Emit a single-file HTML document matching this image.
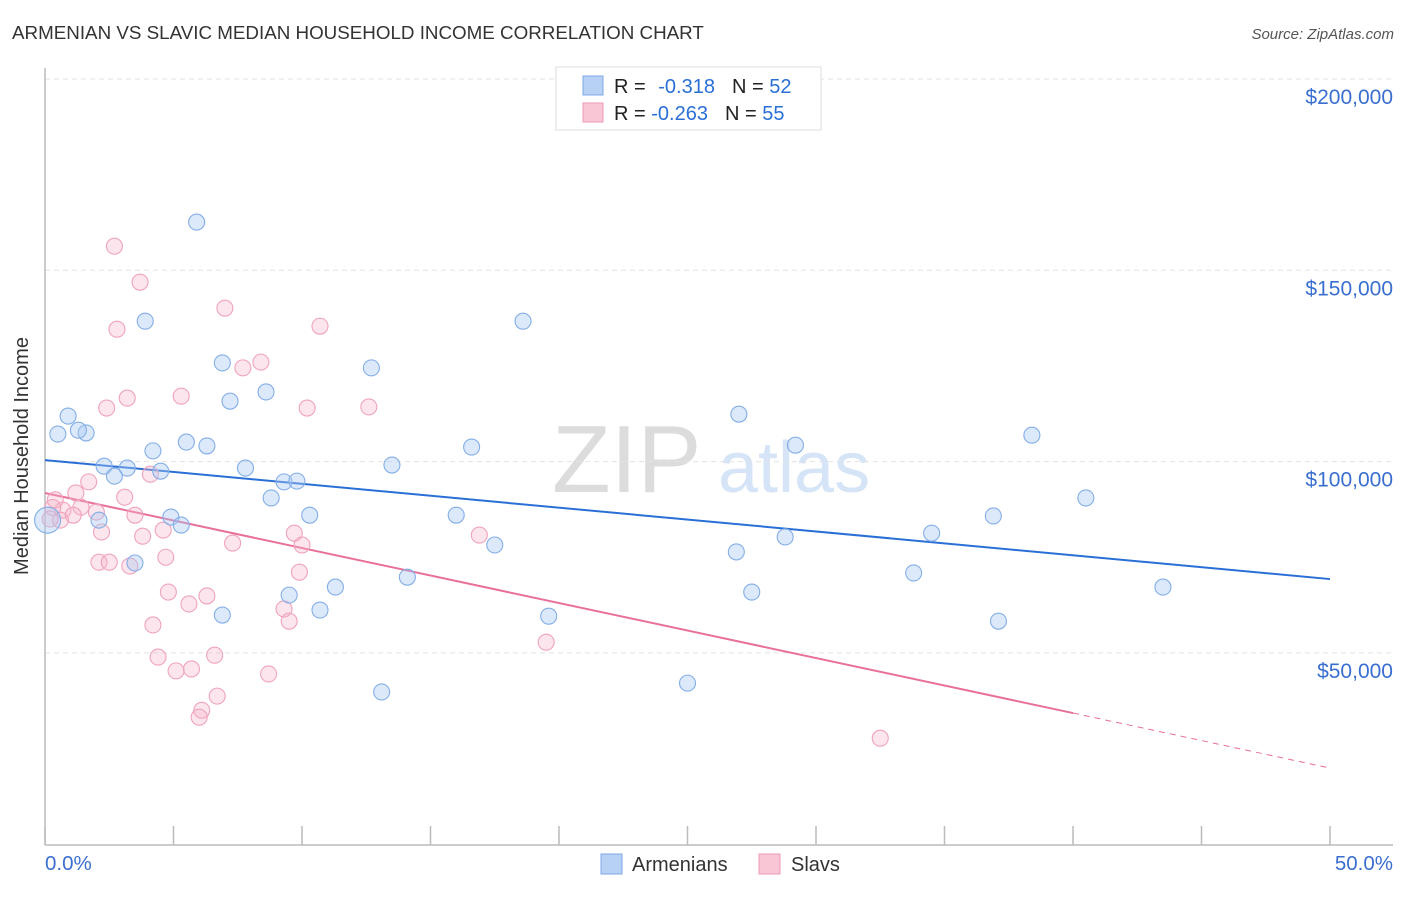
<!DOCTYPE html>
<html><head><meta charset="utf-8"><style>
body{margin:0;background:#fff;font-family:"Liberation Sans",sans-serif;}
svg text{font-family:"Liberation Sans",sans-serif;}
</style></head><body>
<svg id="chart" width="1406" height="892">
<text x="12" y="39" font-size="18.8" fill="#333">ARMENIAN VS SLAVIC MEDIAN HOUSEHOLD INCOME CORRELATION CHART</text>
<text x="1394" y="39" font-size="15" fill="#555" font-style="italic" text-anchor="end">Source: ZipAtlas.com</text>
<g><text x="552" y="492" font-size="96" fill="#dcdcdc" font-family="Liberation Serif">ZIP</text><text x="718" y="492" font-size="72" fill="#d5e4f7">atlas</text></g>
<g id="grid"></g><g id="axes"></g><g id="lines"></g><g id="points"></g>
<text x="28" y="456" font-size="20" fill="#333" text-anchor="middle" transform="rotate(-90 28 456)">Median Household Income</text>
<text x="45" y="870" font-size="20.5" fill="#3a6fd0">0.0%</text>
<text x="1393" y="870" font-size="20.5" fill="#3a6fd0" text-anchor="end">50.0%</text>
<g>
<rect x="556" y="67" width="265" height="63" fill="#fff" stroke="#ddd"/>
<rect x="583" y="76" width="20" height="19" fill="#b7d1f4" stroke="#7ea8e4"/>
<rect x="583" y="103" width="20" height="19" fill="#f9c6d5" stroke="#ee9ab6"/>
<text x="614" y="93" font-size="20" fill="#222">R = <tspan fill="#2a6fd6" dx="7">-0.318</tspan><tspan dx="17">N = </tspan><tspan fill="#2a6fd6">52</tspan></text>
<text x="614" y="120" font-size="20" fill="#222">R = <tspan fill="#2a6fd6">-0.263</tspan><tspan dx="17">N = </tspan><tspan fill="#2a6fd6">55</tspan></text>
</g>
<g>
<rect x="601" y="854" width="21" height="20" fill="#b7d1f4" stroke="#7ea8e4"/>
<text x="632" y="871" font-size="20" fill="#333">Armenians</text>
<rect x="759" y="854" width="21" height="20" fill="#f9c6d5" stroke="#ee9ab6"/>
<text x="791" y="871" font-size="20" fill="#333">Slavs</text>
</g>
</svg>
<script>
const yTicks=[200000,150000,100000,50000];
const yTickLabels=["$200,000","$150,000","$100,000","$50,000"];
const xTicks=[0,5,10,15,20,25,30,35,40,45,50];
const armX=[5.9,3.9,18.6,6.9,12.7,8.6,7.2,0.9,27.0,0.5,1.6,1.3,5.5,6.3,4.2,16.6,29.2,38.4,2.3,3.2,4.5,7.8,13.5,2.7,9.3,9.8,8.8,40.5,10.3,16.0,4.9,2.1,5.3,36.9,34.5,17.5,28.8,26.9,3.5,14.1,33.8,11.3,43.5,9.5,27.5,10.7,6.9,19.6,37.1,13.1,25.0,0.1];
const armY=[162.6,136.7,136.7,125.8,124.5,118.2,115.8,111.9,112.4,107.2,107.5,108.2,105.1,104.1,102.8,103.8,104.3,106.9,98.8,98.3,97.5,98.3,99.1,96.2,94.7,94.9,90.5,90.5,86.0,86.0,85.5,84.7,83.4,85.8,81.3,78.2,80.3,76.4,73.5,69.8,70.9,67.2,67.2,65.1,65.9,61.2,59.9,59.6,58.3,39.8,42.1,84.7];
const slavX=[2.7,3.7,7.0,10.7,2.8,8.4,7.7,3.2,5.3,2.4,10.2,12.6,4.1,1.7,1.2,3.1,0.4,0.7,1.4,2.0,1.1,3.5,0.6,2.2,4.6,7.3,9.7,10.0,3.8,2.1,2.5,4.7,3.3,9.9,4.8,6.3,5.6,9.3,9.5,4.2,6.6,4.4,5.1,5.7,8.7,6.7,6.1,6.0,19.5,32.5,16.9,0.3,0.2];
const slavY=[156.3,146.9,140.1,135.4,134.6,126.0,124.5,116.6,117.1,114.0,114.0,114.3,96.7,94.7,91.8,90.7,90.0,87.3,88.1,86.8,86.0,86.0,84.7,81.6,82.1,78.7,81.3,78.2,80.5,73.7,73.7,75.0,72.7,71.1,65.9,64.9,62.8,61.5,58.3,57.3,49.4,48.9,45.3,45.8,44.5,38.7,35.0,33.2,52.8,27.7,80.8,88.0,85.0];
const armTrend=[100.4,69.3];
const slavTrend=[91.8,19.9];
const slavSolidEnd=40;
const X=p=>45+p*25.7, Y=v=>79+(200000-v)/50000*191.3, Yk=k=>Y(k*1000);
const NS="http://www.w3.org/2000/svg";
function mk(parent,tag,attrs){const e=document.createElementNS(NS,tag);for(const k in attrs)e.setAttribute(k,attrs[k]);document.getElementById(parent).appendChild(e);return e;}
yTicks.forEach((t,i)=>{
 const l=mk('grid','line',{x1:45,x2:1393,y1:Y(t),y2:Y(t),stroke:'#e2e2e2','stroke-dasharray':'5,4'});
 
 
 const tx=mk('grid','text',{x:1393,y:Y(t)+25,'font-size':21,fill:'#3a6fd0','text-anchor':'end'});
 tx.textContent=yTickLabels[i];
 
 
});
let a=mk('axes','line',{x1:45,x2:45,y1:68,y2:845,stroke:'#bbb','stroke-width':1.5});


a=mk('axes','line',{x1:45,x2:1393,y1:845,y2:845,stroke:'#bbb','stroke-width':1.5});


xTicks.forEach(t=>{const l=mk('axes','line',{x1:X(t),x2:X(t),y1:826,y2:845,stroke:'#bbb','stroke-width':1.5});
 
 });
let ln=mk('lines','line',{x1:X(0),y1:Yk(armTrend[0]),x2:X(50),y2:Yk(armTrend[1]),stroke:'#2a6fd6','stroke-width':2});


const sMid=slavTrend[0]+(slavTrend[1]-slavTrend[0])*slavSolidEnd/50;
ln=mk('lines','line',{x1:X(0),y1:Yk(slavTrend[0]),x2:X(slavSolidEnd),y2:Yk(sMid),stroke:'#e8709a','stroke-width':2});


ln=mk('lines','line',{x1:X(slavSolidEnd),y1:Yk(sMid),x2:X(50),y2:Yk(slavTrend[1]),stroke:'#e8709a','stroke-width':1,'stroke-dasharray':'6,5'});


slavX.forEach((x,i)=>{const c=mk('points','circle',{cx:X(x),cy:Yk(slavY[i]),r:8,fill:'rgba(246,180,200,0.35)',stroke:'#efa3bd','stroke-width':1.1});
 
 });
armX.forEach((x,i)=>{const c=mk('points','circle',{cx:X(x),cy:Yk(armY[i]),r:i==armX.length-1?13:8,fill:'rgba(168,200,242,0.4)',stroke:'#84aee6','stroke-width':1.1});
 
 });
</script>
</body></html>
